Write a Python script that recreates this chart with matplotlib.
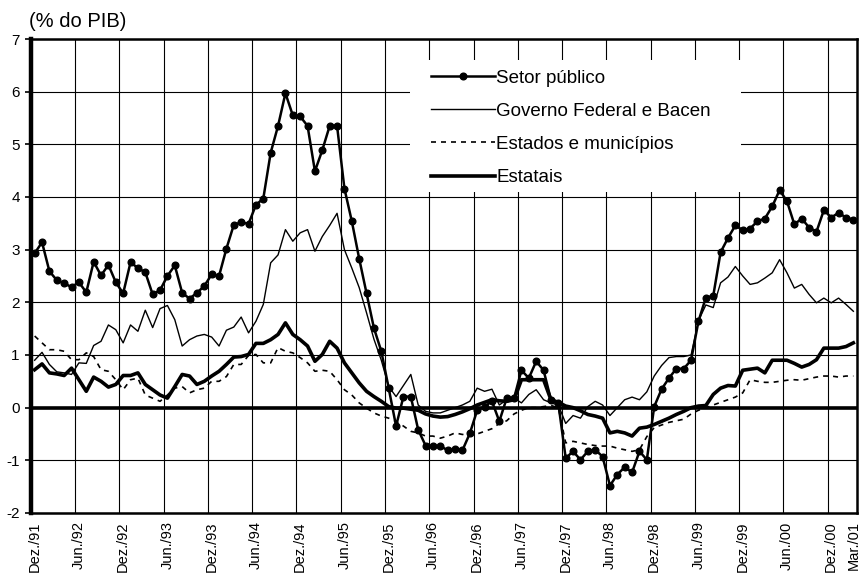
import numpy as np
import matplotlib
matplotlib.use("Agg")
import matplotlib.pyplot as plt
from matplotlib.patches import Rectangle

plt.rcParams['font.family'] = ['Liberation Sans', 'DejaVu Sans']
plt.rcParams['axes.unicode_minus'] = False

# monthly series, Dez/91 .. Mar/01 (% do PIB)
setor_publico = [
    2.93, 3.14, 2.59, 2.42, 2.36, 2.29, 2.38, 2.19, 2.77, 2.51, 2.71, 2.38,
    2.17, 2.76, 2.65, 2.57, 2.15, 2.23, 2.50, 2.70, 2.18, 2.07, 2.18, 2.31,
    2.53, 2.50, 3.02, 3.47, 3.52, 3.49, 3.85, 3.97, 4.84, 5.35, 5.97, 5.55,
    5.53, 5.35, 4.49, 4.89, 5.35, 5.35, 4.16, 3.54, 2.83, 2.17, 1.51, 1.07,
    0.37, -0.35, 0.21, 0.21, -0.42, -0.72, -0.73, -0.73, -0.81, -0.79, -0.81, -0.49,
    -0.05, 0.02, 0.12, -0.26, 0.18, 0.18, 0.71, 0.56, 0.88, 0.71, 0.15, 0.08,
    -0.96, -0.83, -0.99, -0.83, -0.80, -0.93, -1.48, -1.27, -1.13, -1.23, -0.83, -0.99,
    0.02, 0.35, 0.56, 0.74, 0.74, 0.90, 1.64, 2.09, 2.12, 2.95, 3.22, 3.46,
    3.37, 3.40, 3.54, 3.59, 3.82, 4.13, 3.92, 3.48, 3.59, 3.42, 3.34, 3.75,
    3.61, 3.70, 3.61, 3.57]
governo_federal = [
    0.90, 1.05, 0.82, 0.68, 0.66, 0.63, 0.85, 0.84, 1.18, 1.26, 1.57, 1.48,
    1.23, 1.57, 1.45, 1.85, 1.52, 1.88, 1.94, 1.67, 1.17, 1.29, 1.36, 1.39,
    1.34, 1.17, 1.47, 1.53, 1.72, 1.42, 1.64, 1.96, 2.75, 2.90, 3.38, 3.16,
    3.32, 3.38, 2.97, 3.25, 3.46, 3.69, 3.00, 2.65, 2.28, 1.80, 1.30, 0.90,
    0.40, 0.21, 0.42, 0.63, 0.05, -0.07, -0.10, -0.10, -0.05, 0.00, 0.05, 0.12,
    0.37, 0.31, 0.35, 0.05, 0.15, 0.18, 0.09, 0.25, 0.34, 0.15, 0.09, 0.05,
    -0.30, -0.15, -0.20, 0.02, 0.12, 0.05, -0.15, 0.00, 0.15, 0.20, 0.15, 0.30,
    0.60, 0.80, 0.95, 0.97, 0.97, 1.00, 1.65, 1.95, 1.90, 2.37, 2.48, 2.68,
    2.50, 2.34, 2.37, 2.46, 2.56, 2.81, 2.56, 2.27, 2.34, 2.15, 1.99, 2.08,
    1.99, 2.08, 1.96, 1.83]
estados_municipios = [
    1.36, 1.23, 1.10, 1.10, 1.07, 0.91, 0.91, 1.04, 0.97, 0.72, 0.69, 0.53,
    0.34, 0.53, 0.56, 0.24, 0.18, 0.12, 0.24, 0.37, 0.40, 0.28, 0.34, 0.37,
    0.50, 0.50, 0.59, 0.82, 0.82, 0.99, 1.01, 0.85, 0.85, 1.14, 1.07, 1.04,
    0.95, 0.85, 0.69, 0.71, 0.69, 0.53, 0.34, 0.24, 0.09, -0.01, -0.10, -0.16,
    -0.20, -0.26, -0.35, -0.45, -0.48, -0.54, -0.54, -0.58, -0.54, -0.48, -0.51, -0.49,
    -0.50, -0.45, -0.40, -0.30, -0.25, -0.12, -0.05, 0.00, 0.00, 0.02, 0.04, 0.00,
    -0.67, -0.64, -0.67, -0.70, -0.72, -0.73, -0.73, -0.77, -0.80, -0.83, -0.80, -0.55,
    -0.38, -0.33, -0.28, -0.25, -0.22, -0.12, -0.05, 0.00, 0.05, 0.10, 0.15, 0.20,
    0.28, 0.53, 0.50, 0.48, 0.48, 0.50, 0.52, 0.53, 0.52, 0.55, 0.58, 0.60,
    0.60, 0.58, 0.60, 0.60]
estatais = [
    0.72, 0.83, 0.66, 0.64, 0.61, 0.75, 0.53, 0.31, 0.58, 0.50, 0.39, 0.44,
    0.61, 0.61, 0.66, 0.44, 0.34, 0.24, 0.18, 0.40, 0.63, 0.60, 0.44, 0.50,
    0.60, 0.69, 0.82, 0.96, 0.97, 1.01, 1.22, 1.22, 1.29, 1.39, 1.61, 1.39,
    1.29, 1.17, 0.88, 1.01, 1.26, 1.13, 0.85, 0.66, 0.47, 0.31, 0.21, 0.12,
    0.02, -0.01, -0.01, -0.03, -0.05, -0.12, -0.16, -0.18, -0.17, -0.13, -0.08, -0.02,
    0.05, 0.10, 0.15, 0.13, 0.12, 0.15, 0.53, 0.53, 0.53, 0.53, 0.15, 0.10,
    0.03, 0.00, -0.06, -0.13, -0.16, -0.20, -0.48, -0.45, -0.48, -0.54, -0.39, -0.37,
    -0.32, -0.26, -0.20, -0.13, -0.07, 0.00, 0.03, 0.04, 0.25, 0.37, 0.42, 0.41,
    0.71, 0.73, 0.75, 0.66, 0.90, 0.90, 0.90, 0.84, 0.77, 0.82, 0.91, 1.13,
    1.13, 1.13, 1.16, 1.23]

tick_months = [0, 6, 12, 18, 24, 30, 36, 42, 48, 54, 60, 66, 72, 78, 84, 90,
               96, 102, 108, 111]
tick_labels = ['Dez./91', 'Jun./92', 'Dez./92', 'Jun./93', 'Dez./93', 'Jun./94',
               'Dez./94', 'Jun./95', 'Dez./95', 'Jun./96', 'Dez./96', 'Jun./97',
               'Dez./97', 'Jun./98', 'Dez./98', 'Jun./99', 'Dez./99', 'Jun./00',
               'Dez./00', 'Mar./01']

n = len(setor_publico)
x = np.arange(n) + 0.5   # points sit in the middle of each month slot

fig = plt.figure(figsize=(8.65, 5.77), dpi=100)
ax = fig.add_axes([0.0358, 0.111, 0.955, 0.8214])

ax.plot(x, governo_federal, color='black', lw=1.0, label='Governo Federal e Bacen', zorder=3)
ax.plot(x, estados_municipios, color='black', lw=1.2, ls=(0, (3, 3)),
        label='Estados e municípios', zorder=3)
ax.plot(x, estatais, color='black', lw=2.6, label='Estatais', zorder=3)
ax.plot(x, setor_publico, color='black', lw=1.8, marker='o', ms=4.8,
        markerfacecolor='black', markeredgecolor='black', label='Setor público', zorder=4)

ax.axhline(0, color='black', lw=2.6, zorder=2.5)

ax.set_xlim(0, 112)
ax.set_ylim(-2, 7)
ax.set_yticks(range(-2, 8))
ax.set_xticks(np.array(tick_months) + 0.5)
ax.set_xticklabels(tick_labels, rotation=90, fontsize=10.5)
ax.set_xticks(np.arange(0, 109, 6), minor=True)
ax.tick_params(axis='x', which='both', length=0, pad=6)
ax.tick_params(axis='y', length=4, width=1.2, labelsize=11, pad=4)
ax.set_axisbelow(True)
ax.grid(axis='y', color='black', lw=0.8)
ax.grid(axis='x', which='minor', color='black', lw=0.8)

for side in ['top', 'right', 'bottom']:
    ax.spines[side].set_linewidth(1.8)
ax.spines['left'].set_linewidth(3.2)

# white area behind the legend hides the grid
ax.add_patch(Rectangle((0.459, 0.677), 0.40, 0.278, transform=ax.transAxes,
                       facecolor='white', edgecolor='none', zorder=1.5))

handles, labels = ax.get_legend_handles_labels()
order = [3, 0, 1, 2]
ax.legend([handles[i] for i in order], [labels[i] for i in order],
          loc='upper left', bbox_to_anchor=(0.484, 0.935), frameon=False,
          fontsize=13.5, handlelength=3.4, handletextpad=0.1, labelspacing=0.85,
          borderpad=0, borderaxespad=0)

fig.text(0.034, 0.962, '(% do PIB)', fontsize=14.5, va='center', ha='left')

fig.savefig('out.png', dpi=100)
